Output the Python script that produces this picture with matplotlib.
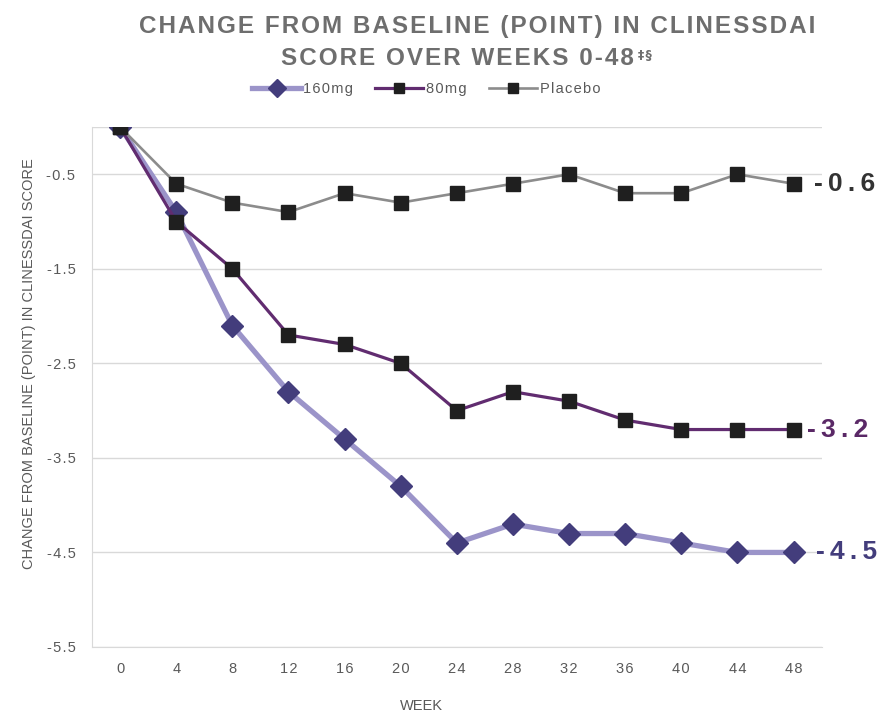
import matplotlib
matplotlib.use("Agg")
import matplotlib.pyplot as plt
from matplotlib.lines import Line2D

plt.rcParams['font.family'] = ['Liberation Sans', 'DejaVu Sans']

weeks = ["0", "4", "8", "12", "16", "20", "24", "28", "32", "36", "40", "44", "48"]
dose_160mg = [0, -0.9, -2.1, -2.8, -3.3, -3.8, -4.4, -4.2, -4.3, -4.3, -4.4, -4.5, -4.5]
dose_80mg = [0, -1.0, -1.5, -2.2, -2.3, -2.5, -3.0, -2.8, -2.9, -3.1, -3.2, -3.2, -3.2]
placebo = [0, -0.6, -0.8, -0.9, -0.7, -0.8, -0.7, -0.6, -0.5, -0.7, -0.7, -0.5, -0.6]
y_ticks = [-5.5, -4.5, -3.5, -2.5, -1.5, -0.5]

HAIR = "\u200a"
THIN = "\u2009"


def spaced(s, sep=HAIR):
    """Spread the characters of a string apart."""
    return sep.join(s)


fig = plt.figure(figsize=(8.94, 7.16), dpi=100)
ax = fig.add_axes([0.103, 0.0964, 0.816, 0.7262])

x = list(range(len(weeks)))
grid_c = "#d9d9d9"
text_c = "#595959"

ax.plot(x, dose_160mg, color="#9b94c9", lw=3.8, marker="D", ms=11,
        mfc="#433d7c", mec="#433d7c", zorder=3)
ax.plot(x, dose_80mg, color="#612c70", lw=2.3, marker="s", ms=9.5,
        mfc="#1f1f1f", mec="#1f1f1f", zorder=4)
ax.plot(x, placebo, color="#8c8c8c", lw=1.9, marker="s", ms=9.5,
        mfc="#1f1f1f", mec="#1f1f1f", zorder=5)

ax.set_xlim(-0.5, len(weeks) - 0.5)
ax.set_ylim(-5.5, 0)
ax.set_xticks(x)
ax.set_xticklabels([spaced(w) for w in weeks])
ax.set_yticks(y_ticks)
ax.set_yticklabels([spaced(f"{v:.1f}") for v in y_ticks])
ax.tick_params(length=0, labelsize=10.5, labelcolor=text_c)
ax.tick_params(axis="y", pad=12)
ax.tick_params(axis="x", pad=11)

ax.grid(axis="y", color=grid_c, lw=1)
ax.axhline(0, color=grid_c, lw=1, zorder=1)
ax.set_axisbelow(True)
for s in ["top", "right"]:
    ax.spines[s].set_visible(False)
ax.spines["left"].set_color(grid_c)
ax.spines["bottom"].set_color(grid_c)

ax.set_xlabel("WEEK", fontsize=10.5, color=text_c)
ax.xaxis.set_label_coords(0.452, -0.101)
ax.set_ylabel("CHANGE FROM BASELINE (POINT) IN CLINESSDAI SCORE",
              fontsize=10.5, color=text_c)
ax.yaxis.set_label_coords(-0.077, 0.544)

# end-of-line value labels
ends = [(placebo, "#333333", 15), (dose_80mg, "#5a2866", 10), (dose_160mg, "#433d7c", 16.5)]
for series, col, off in ends:
    ax.annotate(spaced(f"{series[-1]:.1f}", THIN), xy=(x[-1], series[-1]), xytext=(off, 0),
                textcoords="offset points", ha="left", va="center",
                fontsize=19, fontweight="bold", color=col, annotation_clip=False)

title_kw = dict(ha="center", va="top", fontsize=17.5, fontweight="bold", color="#6e6e6e")
fig.text(0.534, 0.979, spaced("CHANGE FROM BASELINE (POINT) IN CLINESSDAI"), **title_kw)
line2 = fig.text(0.512, 0.935, spaced("SCORE OVER WEEKS 0-48"), **title_kw)

fig.canvas.draw()
bb = line2.get_window_extent(fig.canvas.get_renderer())
fig.text(bb.x1 / fig.bbox.width + 0.004, bb.y1 / fig.bbox.height - 0.004, spaced("‡§"),
         ha="left", va="top", fontsize=9, fontweight="bold", color="#6e6e6e",
         family=["DejaVu Sans"])

handles = [
    Line2D([], [], color="#9b94c9", lw=3.8, marker="D", ms=9, mfc="#433d7c", mec="#433d7c"),
    Line2D([], [], color="#612c70", lw=2.3, marker="s", ms=7, mfc="#1f1f1f", mec="#1f1f1f"),
    Line2D([], [], color="#8c8c8c", lw=1.9, marker="s", ms=7, mfc="#1f1f1f", mec="#1f1f1f"),
]
fig.legend(handles, [spaced(t) for t in ["160mg", "80mg", "Placebo"]], loc="center",
           bbox_to_anchor=(0.477, 0.876), ncol=3, frameon=False, fontsize=10.5,
           handlelength=3.3, columnspacing=1.5, handletextpad=0.2, labelcolor=text_c)

fig.savefig("out.png", dpi=100)
